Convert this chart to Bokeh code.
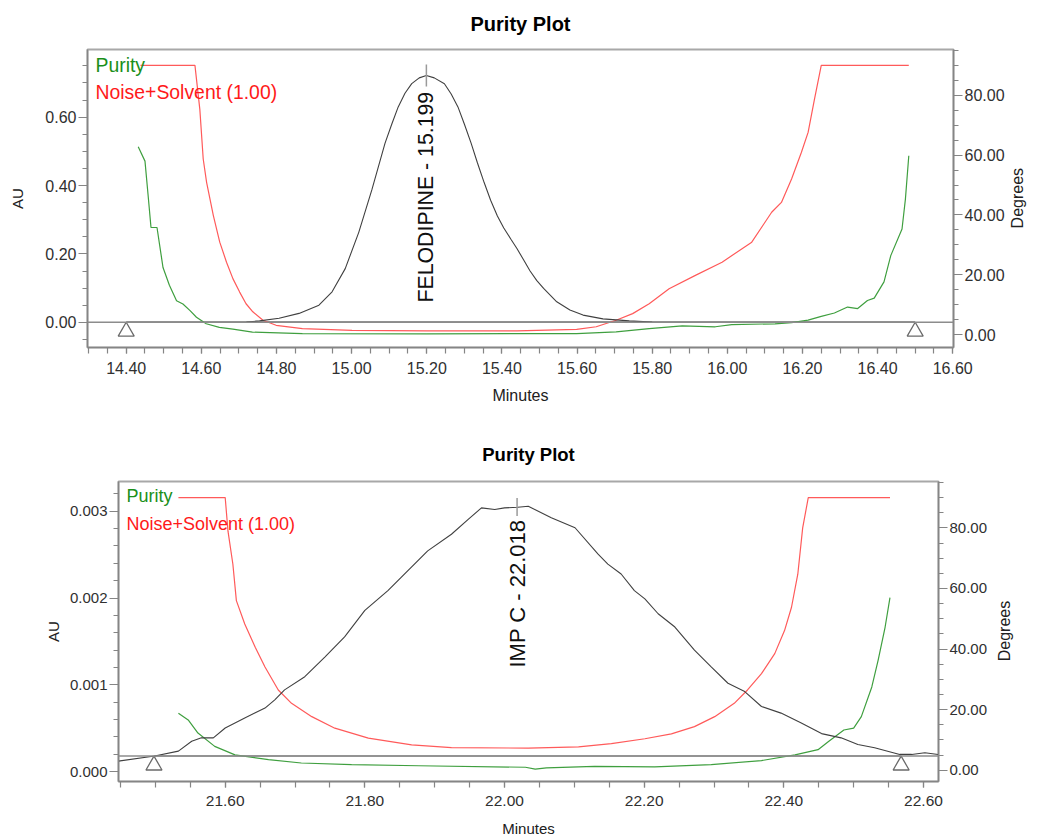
import math
from bokeh.plotting import figure
from bokeh.models import (Range1d, LinearAxis, SingleIntervalTicker, FixedTicker,
                          NumeralTickFormatter, CustomJSTickFormatter, Label, Span)
from bokeh.embed import file_html
from bokeh.resources import INLINE

FONT = "Liberation Sans"

# ------------------------------------------------------------------ data
# ---- chart 1 : FELODIPINE
c1_title = "Purity Plot"
c1_peak_name = "FELODIPINE - 15.199"
c1_peak_rt = 15.199
c1_peak_au = 0.722
c1_x_range = (14.297, 16.602)
c1_au_range = (-0.0738, 0.798)
c1_deg_range = (-4.33, 95.33)
c1_baseline_au = 0.0
c1_marker_t = [14.40, 16.50]
c1_marker_au = [-0.027, -0.027]

c1_chrom_t = [14.72, 14.755, 14.807, 14.860, 14.913, 14.948, 14.983, 15.019,
              15.054, 15.089, 15.107, 15.124, 15.142, 15.160, 15.180, 15.199,
              15.220, 15.247, 15.265, 15.283, 15.300, 15.318, 15.335, 15.353,
              15.370, 15.388, 15.405, 15.424, 15.440, 15.458, 15.475, 15.493,
              15.511, 15.546, 15.581, 15.616, 15.669, 15.739, 15.80]
c1_chrom_au = [0.001, 0.004, 0.012, 0.026, 0.050, 0.089, 0.157, 0.263,
               0.388, 0.524, 0.580, 0.630, 0.670, 0.698, 0.715, 0.722,
               0.715, 0.698, 0.668, 0.630, 0.580, 0.524, 0.466, 0.408,
               0.357, 0.311, 0.276, 0.243, 0.216, 0.182, 0.150, 0.122,
               0.099, 0.060, 0.036, 0.021, 0.010, 0.004, 0.001]

c1_purity_t = [14.432, 14.450, 14.458, 14.466, 14.482, 14.498, 14.515, 14.534,
               14.551, 14.570, 14.587, 14.613, 14.648, 14.684, 14.736, 14.869,
               15.200, 15.440, 15.599, 15.704, 15.792, 15.880, 15.968, 16.012,
               16.127, 16.171, 16.215, 16.250, 16.285, 16.320, 16.347, 16.373,
               16.391, 16.417, 16.435, 16.465, 16.474, 16.483]
c1_purity_deg = [62.8, 58.0, 47.0, 35.8, 35.8, 22.4, 16.5, 11.3,
                 10.2, 8.0, 5.8, 3.6, 2.4, 1.8, 0.8, 0.3,
                 0.2, 0.3, 0.3, 0.9, 2.0, 2.9, 2.6, 3.3,
                 3.6, 4.0, 4.8, 6.1, 7.2, 9.2, 8.7, 11.4,
                 12.2, 17.6, 26.4, 35.3, 45.3, 59.8]

c1_noise_t = [14.438, 14.583, 14.596, 14.605, 14.614, 14.632, 14.649, 14.667,
              14.684, 14.702, 14.719, 14.737, 14.764, 14.799, 14.869, 15.001,
              15.200, 15.440, 15.599, 15.651, 15.704, 15.748, 15.792, 15.845,
              15.915, 15.986, 16.065, 16.118, 16.144, 16.171, 16.197, 16.215,
              16.232, 16.250, 16.483]
c1_noise_deg = [90.0, 90.0, 75.3, 58.7, 50.9, 39.8, 30.9, 24.2,
                18.7, 14.2, 10.3, 7.6, 4.8, 3.1, 2.0, 1.4,
                1.2, 1.2, 1.7, 2.6, 4.8, 7.0, 10.3, 15.3,
                19.8, 24.2, 30.9, 40.9, 44.2, 52.0, 60.9, 67.6,
                78.7, 90.0, 90.0]

# ---- chart 2 : IMP C
c2_title = "Purity Plot"
c2_peak_name = "IMP C - 22.018"
c2_peak_rt = 22.018
c2_peak_au = 0.00305
c2_x_range = (21.4472, 22.6215)
c2_au_range = (-0.000114, 0.003343)
c2_deg_range = (-3.7, 95.3)
c2_baseline_au = 0.00018
c2_marker_t = [21.498, 22.568]
c2_marker_au = [0.000072, 0.000072]

c2_chrom_t = [21.447, 21.499, 21.533, 21.552, 21.566, 21.583, 21.600, 21.628,
              21.657, 21.671, 21.685, 21.714, 21.743, 21.771, 21.800, 21.833,
              21.852, 21.890, 21.924, 21.948, 21.967, 21.986, 22.000, 22.019,
              22.034, 22.067, 22.101, 22.134, 22.148, 22.167, 22.186, 22.201,
              22.220, 22.244, 22.272, 22.296, 22.320, 22.344, 22.368, 22.396,
              22.425, 22.454, 22.482, 22.506, 22.530, 22.566, 22.583, 22.602,
              22.621]
c2_chrom_au = [0.000121, 0.000179, 0.000236, 0.000350, 0.000389, 0.000389, 0.000503, 0.000618,
               0.000732, 0.000827, 0.000942, 0.001094, 0.001323, 0.001552, 0.001857, 0.002086,
               0.002238, 0.002543, 0.002735, 0.002906, 0.003039, 0.003021, 0.003039, 0.003047,
               0.003058, 0.002925, 0.002810, 0.002506, 0.002391, 0.002277, 0.002086, 0.001991,
               0.001819, 0.001666, 0.001399, 0.001208, 0.001018, 0.000922, 0.000750, 0.000674,
               0.000561, 0.000438, 0.000389, 0.000312, 0.000275, 0.000198, 0.000198, 0.000217,
               0.000198]

c2_purity_t = [21.533, 21.547, 21.561, 21.585, 21.614, 21.662, 21.709, 21.781,
               21.877, 22.030, 22.044, 22.060, 22.129, 22.215, 22.296, 22.368,
               22.416, 22.449, 22.464, 22.486, 22.500, 22.511, 22.526, 22.535,
               22.545, 22.552]
c2_purity_deg = [18.8, 16.6, 12.3, 7.9, 5.1, 3.5, 2.4, 1.9,
                 1.5, 1.0, 0.4, 0.8, 1.3, 1.1, 1.9, 3.2,
                 5.1, 6.8, 9.5, 13.3, 13.9, 17.7, 27.5, 36.3,
                 47.2, 57.0]

c2_noise_t = [21.533, 21.600, 21.604, 21.611, 21.616, 21.628, 21.643, 21.657,
              21.676, 21.695, 21.724, 21.757, 21.805, 21.867, 21.924, 22.034,
              22.106, 22.153, 22.201, 22.239, 22.272, 22.301, 22.329, 22.348,
              22.368, 22.387, 22.401, 22.411, 22.420, 22.427, 22.435, 22.552]
c2_noise_deg = [90.0, 90.0, 78.9, 68.0, 56.0, 48.3, 40.6, 34.1,
                26.5, 22.1, 17.7, 13.9, 10.6, 8.4, 7.5, 7.3,
                7.7, 8.8, 10.4, 12.0, 14.4, 17.7, 22.1, 26.5,
                31.9, 38.5, 46.1, 53.8, 64.7, 80.0, 90.0, 90.0]

legend_texts = ["Purity", "Noise+Solvent (1.00)"]
x_label = "Minutes"
left_label = "AU"
right_label = "Degrees"

# ------------------------------------------------------------------ style
GREEN_LINE = "#3f9f3f"
GREEN_TEXT = "#1a8f1a"
RED_LINE = "#ff5a5a"
RED_TEXT = "#ff1a1a"
CHROM = "#404040"
AXIS = "#858585"
TICKTXT = "#303030"
DEG_LABEL_PX = 60   # approximate on-screen length of the "Degrees" title


def make_chart(cfg):
    p = figure(width=cfg["width"], height=cfg["height"],
               x_range=Range1d(*cfg["x_range"]), y_range=Range1d(*cfg["au_range"]),
               output_backend="svg", toolbar_location=None,
               min_border_left=cfg["bl"], min_border_right=cfg["br"],
               min_border_top=cfg["bt"], min_border_bottom=cfg["bb"],
               background_fill_color="white", border_fill_color="white")
    p.outline_line_color = "#a8a8a8"
    p.outline_line_width = 2
    p.xgrid.visible = False
    p.ygrid.visible = False

    p.title.text = cfg["title"]
    p.title.align = "center"
    p.title.vertical_align = cfg["title_valign"]
    p.title.text_font = FONT
    p.title.text_font_style = "bold"
    p.title.text_font_size = cfg["title_size"]
    p.title.text_color = "black"
    p.title.standoff = cfg["title_standoff"]

    p.extra_y_ranges = {"deg": Range1d(*cfg["deg_range"])}
    right = LinearAxis(y_range_name="deg")
    p.add_layout(right, "right")

    xa = p.xaxis[0]
    xa.ticker = SingleIntervalTicker(interval=0.2, num_minor_ticks=4)
    xa.formatter = NumeralTickFormatter(format="0.00")
    xa.axis_label = x_label
    xa.major_tick_out = 6
    xa.minor_tick_out = 6
    xa.major_tick_in = 0
    xa.minor_tick_in = 0
    xa.major_label_standoff = cfg["xtick_standoff"]
    xa.axis_label_standoff = cfg["xlab_standoff"]
    xa.major_label_text_font_size = cfg["tick_size"]
    xa.axis_label_text_font_size = cfg["xlab_size"]

    ya = p.yaxis[0]
    ya.ticker = SingleIntervalTicker(interval=cfg["au_interval"], num_minor_ticks=cfg["au_minor"])
    ya.formatter = NumeralTickFormatter(format=cfg["au_format"])
    ya.axis_label = left_label
    ya.major_tick_out = 9
    ya.minor_tick_out = 5
    ya.major_tick_in = 0
    ya.minor_tick_in = 0
    ya.major_label_standoff = 2
    ya.axis_label_standoff = cfg["ylab_standoff"]
    ya.major_label_text_font_size = cfg["ytick_size"]
    ya.axis_label_text_font_size = "15px"

    right.ticker = SingleIntervalTicker(interval=20, num_minor_ticks=4)
    right.formatter = NumeralTickFormatter(format="0.00")
    right.major_tick_out = 9
    right.minor_tick_out = 5
    right.major_tick_in = 0
    right.minor_tick_in = 0
    right.major_label_standoff = 2
    right.major_label_text_font_size = cfg["ytick_size"]

    for ax in (xa, ya, right):
        ax.axis_line_color = AXIS
        ax.axis_line_width = 1.5
        ax.major_tick_line_color = AXIS
        ax.minor_tick_line_color = AXIS
        ax.major_tick_line_width = 1.2
        ax.minor_tick_line_width = 1.2
        ax.major_label_text_color = TICKTXT
        ax.major_label_text_font = FONT
        ax.axis_label_text_font = FONT
        ax.axis_label_text_font_style = "normal"
        ax.axis_label_text_color = "#202020"

    fh = cfg["height"] - cfg["bt"] - cfg["bb"]

    # "Degrees" title: drawn as the single (rotated) tick label of a bare companion
    # axis, so that it reads bottom-to-top and is centred on the frame
    lo, hi = cfg["deg_range"]
    px_per_deg = fh / (hi - lo)
    start = round((lo + hi) / 2 - (DEG_LABEL_PX / 2) / px_per_deg, 2)
    deg_title = LinearAxis(y_range_name="deg",
                           ticker=FixedTicker(ticks=[start], minor_ticks=[]),
                           formatter=CustomJSTickFormatter(code="return '%s'" % right_label),
                           major_label_orientation=math.pi / 2,
                           major_label_standoff=cfg["rlab_standoff"],
                           major_label_text_font=FONT, major_label_text_font_size="16px",
                           major_label_text_color="#202020",
                           axis_line_color=None, major_tick_line_color=None,
                           minor_tick_line_color=None, major_tick_out=0, major_tick_in=0,
                           minor_tick_out=0, minor_tick_in=0)
    p.add_layout(deg_title, "right")

    # zero / integration baseline
    p.add_layout(Span(location=cfg["baseline"], dimension="width",
                      line_color="#8c8c8c", line_width=1.3))
    p.line(cfg["marker_t"], [cfg["baseline"]] * len(cfg["marker_t"]),
           line_color=cfg["baseline_color"], line_width=1.3)

    p.line(cfg["noise_t"], cfg["noise_deg"], y_range_name="deg",
           line_color=RED_LINE, line_width=1.2)
    p.line(cfg["purity_t"], cfg["purity_deg"], y_range_name="deg",
           line_color=GREEN_LINE, line_width=1.2)
    p.line(cfg["chrom_t"], cfg["chrom_au"], line_color=CHROM, line_width=1.1)

    p.scatter(cfg["marker_t"], cfg["marker_au"], marker="triangle", size=16,
              fill_color="white", line_color="#6a6a6a", line_width=1.3)
    p.scatter([cfg["peak_rt"]], [cfg["peak_au"]], marker="dash", angle=math.pi / 2,
              size=cfg["tick_len"], line_color="#9a9a9a", line_width=1.5)

    p.add_layout(Label(x=cfg["peak_rt"], x_units="data", y=cfg["peak_label_y"], y_units="screen",
                       text=cfg["peak_name"], angle=math.pi / 2, text_align="left",
                       text_baseline="middle", text_font=FONT,
                       text_font_size=cfg["peak_size"], text_color="#101010"))

    p.add_layout(Label(x=8, y=fh - cfg["leg_y"][0], x_units="screen", y_units="screen",
                       text=legend_texts[0], text_color=GREEN_TEXT, text_font=FONT,
                       text_font_size=cfg["leg_size"], text_baseline="middle"))
    p.add_layout(Label(x=8, y=fh - cfg["leg_y"][1], x_units="screen", y_units="screen",
                       text=legend_texts[1], text_color=RED_TEXT, text_font=FONT,
                       text_font_size=cfg["leg_size"], text_baseline="middle"))
    return p


cfg1 = dict(width=1037, height=420, bl=87, br=76, bt=48, bb=73,
            title=c1_title, title_size="20px", title_standoff=25, title_valign="top",
            x_range=c1_x_range, au_range=c1_au_range, deg_range=c1_deg_range,
            au_interval=0.2, au_minor=4, au_format="0.00",
            tick_size="16px", ytick_size="16px", xlab_size="16px",
            xtick_standoff=8, xlab_standoff=10, ylab_standoff=16, rlab_standoff=10,
            baseline=c1_baseline_au, baseline_color="#303030",
            marker_t=c1_marker_t, marker_au=c1_marker_au,
            chrom_t=c1_chrom_t, chrom_au=c1_chrom_au,
            purity_t=c1_purity_t, purity_deg=c1_purity_deg,
            noise_t=c1_noise_t, noise_deg=c1_noise_deg,
            peak_rt=c1_peak_rt, peak_au=c1_peak_au, peak_name=c1_peak_name,
            peak_label_y=45, peak_size="21.3px", tick_len=22,
            leg_y=(16, 43), leg_size="19.4px")

cfg2 = dict(width=1037, height=419, bl=118, br=99, bt=61, bb=56,
            title=c2_title, title_size="18.5px", title_standoff=34, title_valign="bottom",
            x_range=c2_x_range, au_range=c2_au_range, deg_range=c2_deg_range,
            au_interval=0.001, au_minor=5, au_format="0.000",
            tick_size="15.5px", ytick_size="15px", xlab_size="15px",
            xtick_standoff=8, xlab_standoff=11, ylab_standoff=5, rlab_standoff=14,
            baseline=c2_baseline_au, baseline_color="#8c8c8c",
            marker_t=c2_marker_t, marker_au=c2_marker_au,
            chrom_t=c2_chrom_t, chrom_au=c2_chrom_au,
            purity_t=c2_purity_t, purity_deg=c2_purity_deg,
            noise_t=c2_noise_t, noise_deg=c2_noise_deg,
            peak_rt=c2_peak_rt, peak_au=c2_peak_au, peak_name=c2_peak_name,
            peak_label_y=114, peak_size="22px", tick_len=18,
            leg_y=(16, 44), leg_size="18px")

p1 = make_chart(cfg1)
p2 = make_chart(cfg2)

open("out.html", "w").write(file_html([p1, p2], INLINE))
